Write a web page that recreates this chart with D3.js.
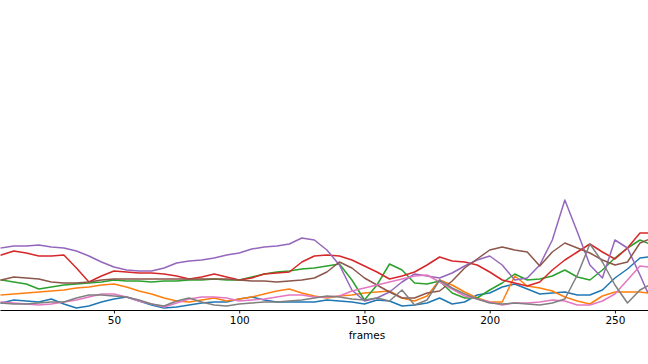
<!DOCTYPE html>
<html>
<head>
<meta charset="utf-8">
<script src="https://cdn.jsdelivr.net/npm/d3@7"></script>
<style>
  html, body { margin: 0; padding: 0; background: #fff; }
  svg { display: block; }
</style>
</head>
<body>
<svg id="chart" width="648" height="364"></svg>
<script>
// ---- data ----
const frames = [5,10,15,20,25,30,35,40,45,50,55,60,65,70,75,80,85,90,95,100,
  105,110,115,120,125,130,135,140,145,150,155,160,165,170,175,180,185,190,195,200,
  205,210,215,220,225,230,235,240,245,250,255,260,263];
const xTicks = [50, 100, 150, 200, 250];
const xLabel = "frames";

const seriesBlue   = [7,10,9,8,11,6,2,4,8,11,13,9,5,2,3,5,7,8,8,11,13,10,8,8,8,8,10,9,8,6,10,9,4,5,7,12,6,8,15,17,23,26,21,16,17,18,15,15,20,32,41,52,53];
const seriesOrange = [15,16,17,18,19,20,22,23,25,26,23,19,16,12,9,8,10,12,9,11,13,16,19,21,17,14,12,14,15,17,18,19,12,9,14,30,25,18,12,8,8,34,24,22,19,13,9,6,14,18,18,18,17];
const seriesGreen  = [30,28,26,21,23,25,26,27,28,30,29,29,28,29,29,30,30,31,30,30,33,36,38,39,41,42,44,46,30,10,25,46,40,27,26,29,17,12,12,20,27,36,30,31,34,40,33,30,40,52,62,70,67];
const seriesRed    = [55,59,57,54,54,55,42,28,34,39,38,37,37,36,34,31,33,36,33,30,32,36,37,38,48,54,55,54,50,44,38,31,34,38,45,53,49,48,45,38,30,27,24,28,40,50,58,66,58,51,62,77,77];
const seriesPurple = [62,64,64,65,63,62,59,54,48,43,40,39,39,42,47,49,50,52,55,57,61,63,64,66,72,70,60,45,20,9,12,18,28,36,34,32,37,44,50,54,45,30,32,45,70,110,78,45,32,70,62,35,18];
const seriesBrown  = [30,33,32,31,28,27,27,28,30,31,31,31,31,31,31,31,31,31,31,30,29,29,28,29,30,32,38,48,42,32,25,18,12,12,17,19,29,42,51,60,63,60,58,44,58,67,62,57,50,45,48,67,70];
const seriesPink   = [8,7,6,5,6,8,10,13,16,16,13,9,6,3,7,11,13,13,12,9,10,11,13,15,15,13,13,14,19,22,25,28,31,34,35,28,21,14,11,8,5,7,7,8,10,9,5,5,9,16,30,44,43];
const seriesGray   = [7,6,6,7,8,8,12,15,15,14,13,10,6,4,9,12,8,5,4,6,7,8,8,9,10,12,14,13,11,10,12,9,20,5,10,30,22,16,11,7,6,7,6,5,7,11,35,66,48,25,7,20,24];

const seriesList = [seriesBlue, seriesOrange, seriesGreen, seriesRed, seriesPurple, seriesBrown, seriesPink, seriesGray];
const colors = ["#1f77b4","#ff7f0e","#2ca02c","#d62728","#9467bd","#8c564b","#e377c2","#7f7f7f"];

// ---- layout ----
const W = 648, H = 364;
const plot = { left: 0, right: 648, top: 0, bottom: 310 };

const svg = d3.select("#chart");

const x = d3.scaleLinear().domain([4.5, 263.2]).range([plot.left, plot.right]);
const y = d3.scaleLinear().domain([0, 310]).range([plot.bottom, plot.top]);

svg.append("defs").append("clipPath").attr("id", "clip")
  .append("rect").attr("x", plot.left).attr("y", plot.top)
  .attr("width", plot.right - plot.left).attr("height", plot.bottom - plot.top);

const line = d3.line()
  .x((d, i) => x(frames[i]))
  .y(d => y(d));

const g = svg.append("g").attr("clip-path", "url(#clip)");
seriesList.forEach((s, k) => {
  g.append("path")
    .datum(s)
    .attr("d", line)
    .attr("fill", "none")
    .attr("stroke", colors[k])
    .attr("stroke-width", 1.5)
    .attr("stroke-linejoin", "round")
    .attr("stroke-linecap", "square");
});

// x axis
const axis = svg.append("g")
  .attr("transform", `translate(0,${plot.bottom})`)
  .call(d3.axisBottom(x).tickValues(xTicks).tickSize(3.5).tickSizeOuter(0).tickPadding(3.5));
axis.select(".domain").attr("stroke", "#000").attr("stroke-width", 1);
axis.selectAll(".tick line").attr("stroke", "#000").attr("stroke-width", 0.9);
axis.selectAll(".tick text")
  .attr("fill", "#000")
  .style("font-family", "DejaVu Sans, sans-serif")
  .style("font-size", "10.5px");

svg.append("text")
  .attr("x", x(151))
  .attr("y", 339)
  .attr("text-anchor", "middle")
  .style("font-family", "DejaVu Sans, sans-serif")
  .style("font-size", "10.5px")
  .attr("fill", "#000")
  .text(xLabel);
</script>
</body>
</html>
